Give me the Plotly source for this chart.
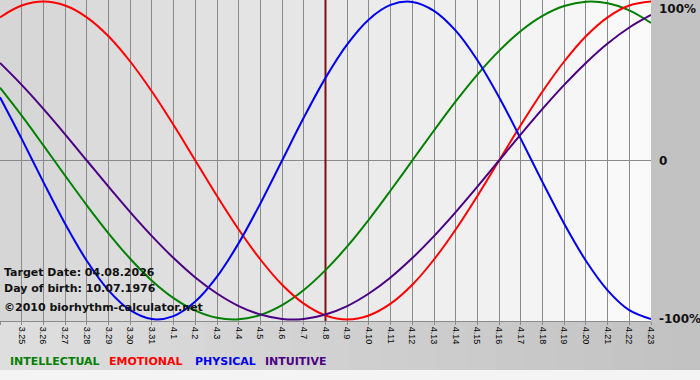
import plotly.graph_objects as go

# ---- data ----
dates = ["3.24", "3.25", "3.26", "3.27", "3.28", "3.29", "3.30", "3.31",
         "4.1", "4.2", "4.3", "4.4", "4.5", "4.6", "4.7", "4.8", "4.9",
         "4.10", "4.11", "4.12", "4.13", "4.14", "4.15", "4.16", "4.17",
         "4.18", "4.19", "4.20", "4.21", "4.22", "4.23"]

intellectual = [0.458, 0.282, 0.095, -0.095, -0.282, -0.458, -0.618, -0.756, -0.866, -0.945,
                -0.990, -0.999, -0.972, -0.910, -0.815, -0.690, -0.541, -0.372, -0.189, 0.000,
                0.189, 0.372, 0.541, 0.690, 0.815, 0.910, 0.972, 0.999, 0.990, 0.945, 0.866]
emotional = [0.901, 0.975, 1.000, 0.975, 0.901, 0.782, 0.623, 0.434, 0.223, 0.000,
             -0.223, -0.434, -0.623, -0.782, -0.901, -0.975, -1.000, -0.975, -0.901, -0.782,
             -0.623, -0.434, -0.223, 0.000, 0.223, 0.434, 0.623, 0.782, 0.901, 0.975, 1.000]
physical = [0.398, 0.136, -0.136, -0.398, -0.631, -0.817, -0.942, -0.998, -0.979, -0.888,
            -0.731, -0.520, -0.270, 0.000, 0.270, 0.520, 0.731, 0.888, 0.979, 0.998,
            0.942, 0.817, 0.631, 0.398, 0.136, -0.136, -0.398, -0.631, -0.817, -0.942, -0.998]
intuitive = [0.614, 0.476, 0.325, 0.165, 0.000, -0.165, -0.325, -0.476, -0.614, -0.736,
             -0.837, -0.916, -0.969, -0.997, -0.997, -0.969, -0.916, -0.837, -0.736, -0.614,
             -0.476, -0.325, -0.165, 0.000, 0.165, 0.325, 0.476, 0.614, 0.736, 0.837, 0.916]

target_day = "4.8"
target_text = "Target Date: 04.08.2026"
birth_text = "Day of birth: 10.07.1976"
credit_text = "\u00a92010 biorhythm-calculator.net"
y_ticks = [1, 0, -1]
y_tick_text = ["100%", "0", "-100%"]

series = [("INTELLECTUAL", intellectual, "#008000"),
          ("EMOTIONAL", emotional, "#ff0000"),
          ("PHYSICAL", physical, "#0000ee"),
          ("INTUITIVE", intuitive, "#4b0082")]
legend_x_px = [8, 107, 193, 263]

# ---- layout geometry ----
W, H = 700, 380
ML, MR, MT, MB = 0, 49, 0, 59
PH = H - MT - MB
PW = W - ML - MR

xs = list(range(len(dates)))
tx = dates.index(target_day)

fig = go.Figure()

# target date line
fig.add_trace(go.Scatter(x=[tx, tx], y=[-1.02, 1.02], mode="lines",
                         line=dict(color="#7a1010", width=2),
                         hoverinfo="skip", showlegend=False))

for name, vals, col in series:
    fig.add_trace(go.Scatter(x=xs, y=vals, mode="lines", name=name,
                             line=dict(color=col, width=2, shape="spline"),
                             hoverinfo="skip", showlegend=False))

shapes = []


def grey(v):
    v = int(round(v))
    return f"rgb({v},{v},{v})"


# outer background gradient (bottom strip)
n = 24
for i in range(n):
    x0 = i * (W / PW) / n
    x1 = (i + 1) * (W / PW) / n + 0.002
    shapes.append(dict(type="rect", xref="paper", yref="paper", layer="below",
                       x0=x0, x1=x1, y0=-(MB - 10) / PH, y1=0,
                       fillcolor=grey(222 - 28 * i / (n - 1)), line=dict(width=0)))
shapes.append(dict(type="rect", xref="paper", yref="paper", layer="below",
                   x0=-0.01, x1=W / PW + 0.01, y0=-(MB + 2) / PH, y1=-(MB - 10) / PH,
                   fillcolor="#f4f4f4", line=dict(width=0)))

# plot area gradient
nd = len(dates) - 1
for i in range(nd):
    shapes.append(dict(type="rect", xref="x", yref="paper", layer="below",
                       x0=i, x1=i + 1, y0=0, y1=1,
                       fillcolor=grey(214 + 36 * i / (nd - 1)), line=dict(width=0)))

annotations = []
for yv, txt in zip(y_ticks, y_tick_text):
    annotations.append(dict(xref="paper", yref="y", x=1, y=yv, xanchor="left",
                            yanchor="middle", xshift=6,
                            yshift=(-7 if yv == 1 else 0),
                            text=txt, showarrow=False,
                            font=dict(family="DejaVu Sans", size=12, color="#111111",
                                      weight="bold")))

for txt, ypx in [(target_text, 272), (birth_text, 288), (credit_text, 307)]:
    annotations.append(dict(xref="paper", yref="paper", x=0, y=1 - ypx / PH,
                            xanchor="left", yanchor="middle", xshift=2,
                            text=txt, showarrow=False,
                            font=dict(family="DejaVu Sans", size=11, color="#111111",
                                      weight="bold")))

for (name, _, col), lx in zip(series, legend_x_px):
    annotations.append(dict(xref="paper", yref="paper", x=lx / PW, y=1 - 362 / PH,
                            xanchor="left", yanchor="middle",
                            text=name, showarrow=False,
                            font=dict(family="DejaVu Sans", size=11, color=col,
                                      weight="bold")))

fig.update_layout(
    width=W, height=H,
    margin=dict(l=ML, r=MR, t=MT, b=MB, pad=0),
    paper_bgcolor="#c2c2c2",
    plot_bgcolor="rgba(0,0,0,0)",
    showlegend=False,
    shapes=shapes,
    annotations=annotations,
    xaxis=dict(range=[0, len(dates) - 1], tickmode="array", tickvals=xs,
               ticktext=dates, tickangle=90, showgrid=True, gridcolor="#8a8a8a",
               gridwidth=1, zeroline=False, showline=True, linecolor="#8a8a8a",
               linewidth=1, ticks="outside", ticklen=3, tickcolor="#8a8a8a",
               tickfont=dict(family="Liberation Sans", size=9, color="#000000"),
               fixedrange=True),
    yaxis=dict(range=[-1.01, 1.01], showgrid=False, zeroline=True,
               zerolinecolor="#8a8a8a", zerolinewidth=1, showticklabels=False,
               ticks="", fixedrange=True),
)

fig.write_html("out.html", config={"displayModeBar": False},
               post_script="document.body.style.margin='0';document.body.style.padding='0';")
